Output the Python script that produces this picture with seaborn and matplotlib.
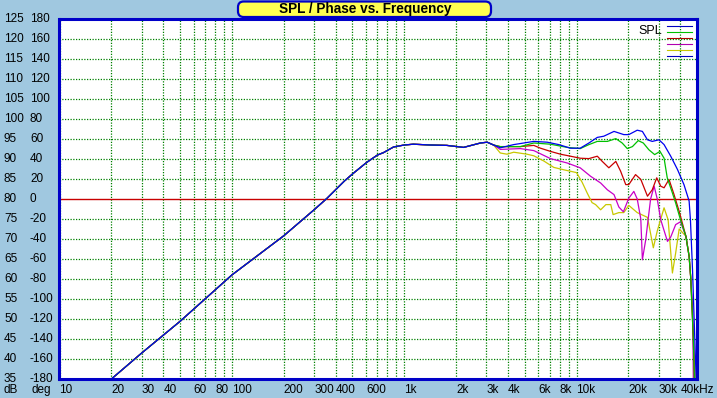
import numpy as np
import pandas as pd
import matplotlib
matplotlib.use('Agg')
import matplotlib.pyplot as plt
import matplotlib.transforms as mtransforms
from matplotlib.patches import FancyBboxPatch
from matplotlib.lines import Line2D
from matplotlib.ticker import NullLocator
import seaborn as sns

# Shared part of all five curves (Hz, dB)
freq_common = [20, 30, 50, 100, 200, 300, 357, 450, 509, 608, 700, 759, 867, 1000,
               1130, 1420, 1770, 2210, 2770, 3030, 3300]
spl_common = [35.0, 41.5, 49.4, 61.0, 70.8, 77.3, 80.2, 84.5, 86.5, 89.2, 91.0, 91.6, 93.0, 93.5,
              93.7, 93.5, 93.4, 92.9, 94.0, 94.2, 93.5]

# Individual parts above ~3.5 kHz
freq_blue = [3610, 4320, 5650, 6760, 7890, 9220, 10500, 11800, 13200, 14400, 16500, 18800,
             20100, 22500, 24100, 25800, 27500, 30100, 32200, 35200, 38500, 42000, 45000,
             45800, 47100, 49000, 49500]
spl_blue = [92.8, 93.6, 94.4, 94.2, 93.6, 92.7, 92.7, 94.0, 95.4, 95.7, 96.9, 96.1,
            96.1, 97.2, 96.9, 94.8, 94.4, 94.8, 93.6, 90.7, 87.4, 83.6, 79.5,
            74.8, 62.3, 39.8, 35.0]

freq_green = [3610, 4720, 5650, 7060, 8830, 10500, 11800, 13200, 15100, 16900, 18400, 19700,
              21100, 22800, 24400, 26300, 28400, 30500, 32200, 33600, 36000, 37600, 40100,
              43100, 45000, 46000, 47600, 48300]
spl_green = [93.1, 93.1, 94.0, 93.7, 92.9, 92.6, 93.6, 94.4, 94.4, 95.1, 94.0, 92.6,
             93.1, 94.6, 94.0, 92.3, 91.1, 91.9, 90.2, 85.3, 81.5, 79.0, 74.8,
             70.7, 65.7, 60.2, 45.0, 35.0]

freq_red = [3610, 4720, 5650, 6180, 7060, 8070, 9220, 10500, 11800, 13200, 14100, 15400,
            16900, 18000, 19300, 20100, 22000, 23600, 25800, 27500, 29200, 30800, 32200,
            34400, 36800, 39400, 43100, 45000, 46000, 47600, 48300]
spl_red = [93.1, 93.1, 93.4, 92.7, 91.9, 91.2, 90.7, 90.2, 90.1, 90.7, 89.4, 87.8,
           89.4, 87.0, 83.6, 83.6, 86.1, 84.9, 80.7, 82.3, 85.3, 83.2, 82.8,
           84.9, 81.1, 76.9, 70.7, 65.7, 60.2, 45.0, 35.0]

freq_magenta = [3610, 4720, 5650, 7060, 8830, 10500, 12050, 13800, 15100, 16500, 17600, 18700,
                20100, 21500, 22500, 23600, 24100, 25200, 26300, 26900, 28200, 29400, 30800,
                33700, 35200, 37600, 40100, 43100, 45000, 46000, 47200, 47600]
spl_magenta = [92.4, 92.6, 92.1, 90.1, 89.0, 87.8, 85.7, 84.0, 82.3, 81.1, 78.0, 76.8,
               80.2, 81.9, 80.0, 75.0, 64.8, 69.8, 76.5, 80.0, 83.2, 80.0, 74.8,
               69.4, 70.5, 73.6, 74.3, 70.7, 65.7, 60.2, 52.0, 35.0]

freq_yellow = [3610, 3950, 4320, 5160, 5650, 6460, 7380, 8440, 10000, 10800, 11500, 12300,
               12900, 13800, 14800, 15800, 16300, 17600, 18800, 20100, 22500, 25800, 27900,
               29400, 32200, 34000, 36000, 37600, 39400, 43100, 45000, 46000, 47200, 49000]
spl_yellow = [91.5, 91.2, 91.7, 91.2, 90.8, 89.5, 87.9, 87.3, 86.6, 84.1, 81.6, 79.1,
              78.6, 77.3, 78.6, 78.6, 76.1, 76.6, 76.6, 78.4, 76.6, 75.4, 67.8,
              72.0, 77.8, 74.8, 61.5, 66.5, 72.5, 70.7, 65.7, 60.2, 50.0, 35.0]

series_names = ['yellow', 'magenta', 'red', 'green', 'blue']
series_colors = ['#C8C800', '#C800C8', '#C80000', '#00C000', '#0000F0']

# dB / deg scale labels and x tick labels
db_labels = [125, 120, 115, 110, 105, 100, 95, 90, 85, 80, 75, 70, 65, 60, 55, 50, 45, 40, 35]
deg_labels = [180, 160, 140, 120, 100, 80, 60, 40, 20, 0, -20, -40, -60, -80, -100, -120, -140, -160, -180]
xtick_freqs = [10, 20, 30, 40, 60, 80, 100, 200, 300, 400, 600, 1000, 2000, 3000, 4000,
               6000, 8000, 10000, 20000, 30000, 40000]
xtick_texts = ['10', '20', '30', '40', '60', '80', '100', '200', '300', '400', '600', '1k', '2k',
               '3k', '4k', '6k', '8k', '10k', '20k', '30k', '40kHz']

parts = {
    'blue': (freq_blue, spl_blue),
    'green': (freq_green, spl_green),
    'red': (freq_red, spl_red),
    'magenta': (freq_magenta, spl_magenta),
    'yellow': (freq_yellow, spl_yellow),
}
rows = []
for name in series_names:
    f, s = parts[name]
    for fr, db in zip(freq_common + f, spl_common + s):
        rows.append({'freq': fr, 'spl': db, 'series': name})
df = pd.DataFrame(rows)

plt.rcParams['font.family'] = ['Liberation Sans', 'DejaVu Sans']

W, H = 717, 398
bg = '#A0C8E0'
fig = plt.figure(figsize=(W / 100, H / 100), dpi=100, facecolor=bg)
ax = fig.add_axes([59.5 / W, 1 - 379 / H, (697 - 59.5) / W, 360 / H])
ax.set_facecolor('white')
ax.set_xscale('log')
ax.set_xlim(10, 50000)
ax.set_ylim(35, 125)

# grid: green dotted (the 80 dB / 0 deg line is drawn solid red instead)
grid_freqs = [m * 10 ** e for e in range(1, 5) for m in range(1, 10) if m * 10 ** e < 50000]
ax.set_xticks(grid_freqs)
ax.xaxis.set_minor_locator(NullLocator())
ax.set_yticks([v for v in range(35, 126, 5) if v != 80])
ax.tick_params(length=0, labelbottom=False, labelleft=False)
ax.grid(True, color='#008000', linestyle=(0, (1, 1.2)), linewidth=0.9, snap=True, zorder=0)
ax.set_axisbelow(True)
ax.axhline(80, color='#C80000', linewidth=1.0, snap=True, zorder=1)

sns.lineplot(data=df, x='freq', y='spl', hue='series', hue_order=series_names,
             palette=dict(zip(series_names, series_colors)), estimator=None,
             linewidth=0.9, legend=False, ax=ax, zorder=2)
ax.set_xlabel('')
ax.set_ylabel('')

for sp in ax.spines.values():
    sp.set_color('#0000C8')
    sp.set_linewidth(2.2)
    sp.set_zorder(5)

# left scale labels
ytr = mtransforms.blended_transform_factory(fig.transFigure, ax.transData)
for db, deg in zip(db_labels, deg_labels):
    ax.text(4 / W, db, str(db), transform=ytr, ha='left', va='center', fontsize=8.5, clip_on=False)
    ax.text(30 / W, db, str(deg), transform=ytr, ha='left', va='center', fontsize=8.5, clip_on=False)

# bottom labels
xtr = mtransforms.blended_transform_factory(ax.transData, fig.transFigure)
ylab = 1 - 390 / H
fig.text(4 / W, ylab, 'dB', ha='left', va='center', fontsize=8.5)
fig.text(31 / W, ylab, 'deg', ha='left', va='center', fontsize=8.5)
for fr, t in zip(xtick_freqs, xtick_texts):
    ax.text(fr, ylab, t, transform=xtr, ha='left', va='center', fontsize=8.5, clip_on=False)

# title box
box = FancyBboxPatch((238 / W, 1 - 17 / H), 253 / W, 15.5 / H,
                     boxstyle='round,pad=0,rounding_size=0.008', mutation_aspect=W / H,
                     transform=fig.transFigure, facecolor='#FFFF50', edgecolor='#0000C8',
                     linewidth=1.6, zorder=10)
fig.patches.append(box)
fig.text(365 / W, 1 - 9.5 / H, 'SPL / Phase vs. Frequency', ha='center', va='center',
         fontsize=9.8, fontweight='bold', zorder=11)

# legend block
fig.text(662 / W, 1 - 31 / H, 'SPL', ha='right', va='center', fontsize=9)
legend_colors = ['#0000C0', '#00C000', '#B00000', '#B000B0', '#C8C800', '#0000C0']
for i, c in enumerate(legend_colors):
    yy = 1 - (25.5 + 6 * i) / H
    fig.add_artist(Line2D([667 / W, 692 / W], [yy, yy], color=c, linewidth=0.8,
                          snap=True, transform=fig.transFigure))

fig.savefig('out.png', dpi=100, facecolor=bg)
